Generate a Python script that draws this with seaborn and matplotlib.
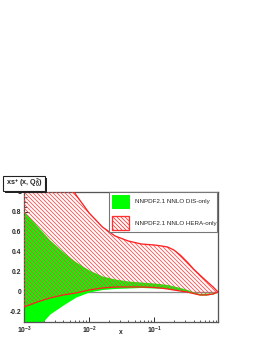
import numpy as np
import pandas as pd
import matplotlib
matplotlib.use('Agg')
import matplotlib.pyplot as plt
import seaborn as sns
from matplotlib.patches import Rectangle, Patch
from matplotlib.ticker import MultipleLocator, LogLocator, NullFormatter

# x grid
x = [0.001, 0.0016, 0.0025, 0.004, 0.0063, 0.01, 0.016, 0.025, 0.04, 0.063,
     0.1, 0.13, 0.16, 0.2, 0.25, 0.32, 0.4, 0.5, 0.63, 0.8, 0.95]

# NNPDF2.1 NNLO DIS-only band
dis_hi = [0.81, 0.66, 0.52, 0.40, 0.30, 0.22, 0.16, 0.13, 0.11, 0.10,
          0.09, 0.082, 0.075, 0.06, 0.045, 0.025, 0.0, -0.015, -0.01, -0.01, 0.0]
dis_lo = [-0.55, -0.36, -0.22, -0.13, -0.05, 0.0, 0.025, 0.035, 0.04, 0.045,
          0.04, 0.038, 0.035, 0.025, 0.015, 0.005, -0.015, -0.03, -0.03, -0.02, 0.0]

# NNPDF2.1 NNLO HERA-only band
hera_hi = [1.75, 1.55, 1.35, 1.17, 0.97, 0.79, 0.65, 0.56, 0.51, 0.48,
           0.47, 0.46, 0.45, 0.42, 0.37, 0.30, 0.23, 0.17, 0.11, 0.05, 0.0]
hera_lo = [-0.15, -0.10, -0.06, -0.03, -0.01, 0.02, 0.04, 0.05, 0.05, 0.05,
           0.045, 0.038, 0.03, 0.02, 0.01, 0.0, -0.015, -0.03, -0.03, -0.02, 0.0]

labels = ['NNPDF2.1 NNLO DIS-only', 'NNPDF2.1 NNLO HERA-only']

sns.set_style('ticks')
plt.rcParams['font.family'] = ['Liberation Sans', 'DejaVu Sans']
plt.rcParams['mathtext.default'] = 'regular'
plt.rcParams['hatch.linewidth'] = 0.8
plt.rcParams['hatch.color'] = '#ff4848'

# dpi 72: one point is one pixel, and the hatch cell is 72 px
W, H = 262, 339
fig = plt.figure(figsize=(W / 72, H / 72), dpi=72)
ax = fig.add_axes([24 / W, 1 - 322 / H, (218 - 24) / W, (322 - 192) / H])

df = pd.DataFrame({'x': x, 'dis_hi': dis_hi, 'dis_lo': dis_lo,
                   'hera_hi': hera_hi, 'hera_lo': hera_lo})

HATCH = '\\' * 6
ax.axhline(0, color='#888888', lw=1.3, zorder=1)
ax.fill_between(df['x'], df['dis_lo'], df['dis_hi'], color='#00ff00', lw=0, zorder=2)
ax.fill_between(df['x'], df['hera_lo'], df['hera_hi'], facecolor='none',
                edgecolor='#ff4848', hatch=HATCH, lw=0, zorder=3)
sns.lineplot(data=df, x='x', y='hera_hi', ax=ax, color='#ff2020', lw=1.3, zorder=4)
sns.lineplot(data=df, x='x', y='hera_lo', ax=ax, color='#ff2020', lw=1.3, zorder=4)

ax.set_xscale('log')
ax.set_xlim(0.001, 0.95)
ax.set_ylim(-0.3, 1.0)
ax.yaxis.set_minor_locator(MultipleLocator(0.05))
ax.set_yticks([-0.2, 0, 0.2, 0.4, 0.6, 0.8, 1.0])
ax.set_yticklabels(['-0.2', '0', '0.2', '0.4', '0.6', '0.8', '1'], fontweight='bold')
ax.xaxis.set_minor_locator(LogLocator(base=10, subs=np.arange(2, 10)))
ax.xaxis.set_minor_formatter(NullFormatter())
ax.set_xticks([0.001, 0.01, 0.1])
ax.set_xticklabels(['$10^{-3}$', '$10^{-2}$', '$10^{-1}$'], fontweight='bold')
ax.tick_params(which='both', direction='in', labelsize=6.8, pad=3, color='#333333')
ax.tick_params(which='major', length=5, width=1)
ax.tick_params(which='minor', length=2.5, width=0.8)
ax.tick_params(axis='y', right=False)
ax.tick_params(axis='x', top=False)
for s in ax.spines.values():
    s.set_color('#555555')
    s.set_linewidth(1.3)
ax.set_xlabel('')
ax.set_ylabel('')
fig.text(121 / W, 1 - 333 / H, 'x', fontsize=6.8, fontweight='bold', ha='center', va='center')

handles = [Patch(facecolor='#00ff00', edgecolor='#00ff00'),
           Patch(facecolor='white', edgecolor='#ff3030', hatch=HATCH, lw=1.3)]
leg = ax.legend(handles, labels, loc='upper left',
                bbox_to_anchor=(109 / W, 1 - 239 / H, (217 - 109) / W, (239 - 192) / H),
                bbox_transform=fig.transFigure, mode='expand', borderaxespad=0,
                fontsize=6.3, handlelength=2.7, handleheight=2.9, labelspacing=1.3,
                handletextpad=1.0, fancybox=False, framealpha=1, borderpad=0.4)
leg.get_frame().set_edgecolor('#777777')
leg.get_frame().set_linewidth(1.1)
leg.set_zorder(10)

# title box with shadow
fig.patches.append(Rectangle((5 / W, 1 - 193 / H), 42 / W, 15 / H, transform=fig.transFigure,
                             facecolor='#222222', edgecolor='none', zorder=20))
fig.patches.append(Rectangle((3 / W, 1 - 191 / H), 42 / W, 15 / H, transform=fig.transFigure,
                             facecolor='white', edgecolor='#222222', lw=1.1, zorder=21))
fig.text(24 / W, 1 - 183.5 / H, r'xs$^{+}$ (x, Q$_{0}^{2}$)', fontsize=7.3, fontweight='bold',
         ha='center', va='center', zorder=22)

fig.savefig('out.png', dpi=72)
